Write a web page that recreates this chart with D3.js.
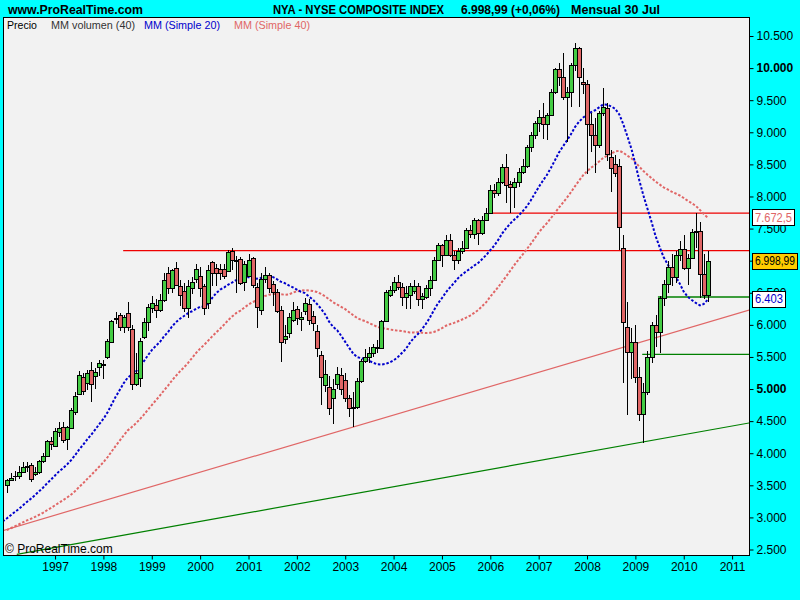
<!DOCTYPE html>
<html><head><meta charset="utf-8">
<script src="https://cdn.jsdelivr.net/npm/d3@7"></script>
<style>
html,body{margin:0;padding:0;background:#00FFFF;}
svg{display:block;font-family:"Liberation Sans",Arial,sans-serif;}
</style></head><body>
<svg id="c" width="800" height="600"></svg>
<script>
// ---------------- DATA (monthly, Jan 1996 .. Jul 2010) ----------------
const startYear = 1996;
const opens = [
3505,3590,3640,3650,3707,3780,3812,3676,3712,3874,3952,4195,
4108,4335,4404,4217,4388,4647,4918,5183,5089,5292,5198,5348,
5380,5494,5737,6090,6148,5962,6184,5930,5074,5167,5815,6049,
6262,6309,6231,6387,6803,6569,6881,6605,6532,6258,6569,6710,
6762,6605,6336,6975,6881,6870,6866,6843,7155,7010,7021,6672,
6760,7037,6594,6231,6710,6781,6631,6516,6226,5774,5868,6076,
6247,6085,6211,6325,6138,5900,5525,5058,5027,4865,5078,5218,
5136,4856,4700,4715,5120,5441,5494,5566,5650,5634,6065,6465,
6543,6672,6594,6440,6470,6520,6600,6398,6438,6570,6700,7010,
7245,7090,7323,7090,7010,7150,7193,7480,7420,7630,7426,7630,
7747,8100,8049,8230,8464,8195,8152,8230,8386,8475,8766,8958,
9140,9243,9124,9270,9623,9981,9866,9554,9620,10048,10308,9788,
9747,9124,8960,8802,9296,9373,8620,8500,8475,7194,5971,5582,
5737,5192,4606,4958,5503,5997,5893,6413,6631,6906,6740,7088,
7177,6881,7037,7442,7467,6792,6465];
const highs = [
3600,3696,3720,3800,3860,3860,3840,3790,3900,4000,4210,4260,
4400,4480,4480,4420,4700,4950,5280,5250,5300,5420,5320,5450,
5460,5780,6080,6200,6180,6160,6356,6000,5560,5800,6100,6330,
6450,6400,6480,6800,6900,6870,6980,6700,6650,6700,6750,6950,
6900,6640,6930,7000,6950,6950,6950,7160,7200,7080,7050,6990,
7100,7060,6650,6800,6900,6800,6680,6560,6300,6000,6180,6350,
6300,6200,6420,6400,6220,6000,5600,5450,5200,5150,5350,5320,
5250,4900,4960,5170,5470,5620,5650,5700,5760,6080,6540,6600,
6750,6780,6650,6600,6650,6700,6650,6500,6620,6760,7050,7280,
7260,7400,7420,7150,7200,7300,7510,7560,7660,7650,7700,7820,
8180,8200,8290,8500,8662,8240,8280,8450,8580,8800,9000,9180,
9350,9450,9300,9680,10000,10080,10240,9700,10080,10387,10330,10000,
9820,9300,9220,9330,9685,9450,8720,8650,8580,7400,6360,5950,
6000,5350,5100,5600,6050,6150,6450,6700,6990,7100,7150,7300,
7400,7100,7500,7743,7600,7100,7150];
const lows = [
3385,3565,3560,3600,3690,3700,3546,3640,3680,3850,3940,4050,
4090,4260,4160,4050,4380,4600,4900,4900,4990,4800,5000,5200,
5152,5470,5720,6010,5900,5880,5900,4980,5050,5036,5780,5900,
6180,6100,6200,6350,6480,6500,6600,6300,6200,6100,6480,6650,
6440,6150,6240,6600,6600,6700,6720,6820,6860,6500,6620,6520,
6740,6580,5950,6150,6650,6500,6300,6180,5426,5700,5800,6050,
5990,5900,6150,6000,5900,5500,4750,4950,4600,4450,5000,4900,
4800,4560,4413,4690,5100,5400,5400,5500,5560,5620,6040,6440,
6500,6540,6300,6250,6250,6480,6300,6250,6400,6450,6680,7000,
6900,7080,7050,6850,6950,7100,7180,7350,7330,7240,7400,7620,
7740,7980,8000,8200,7898,7740,7820,8150,8350,8440,8700,8900,
9000,8900,8880,9250,9600,9720,9500,8850,9400,9950,9400,9600,
8350,8700,8366,8750,9250,8550,8074,8300,7165,5100,4595,5150,
5100,4500,4164,4900,5400,5650,5560,6300,6500,6600,6650,7000,
6850,6621,7020,7200,6420,6400,6360];
const closes = [
3583,3609,3650,3707,3780,3800,3603,3712,3874,3952,4195,4139,
4341,4388,4200,4404,4668,4891,5214,4965,5245,5074,5260,5400,
5390,5744,6060,6102,5962,6117,5962,5074,5250,5744,6040,6283,
6340,6231,6387,6699,6569,6855,6621,6465,6258,6605,6672,6866,
6569,6258,6855,6803,6803,6800,6762,7130,7010,6990,6647,6943,
7010,6621,6282,6710,6781,6569,6516,6216,5737,5820,6117,6231,
6102,6117,6336,6076,6024,5634,5183,5229,4700,4995,5229,4996,
4856,4700,4715,5120,5441,5494,5566,5650,5634,6065,6516,6543,
6672,6585,6438,6490,6600,6600,6398,6450,6570,6700,7010,7245,
7090,7323,7090,7010,7150,7193,7480,7420,7630,7426,7630,7747,
8100,8049,8230,8464,8179,8152,8230,8386,8475,8766,8958,9140,
9243,9124,9270,9623,9981,9866,9554,9623,10048,10308,9856,9747,
9124,8960,8802,9296,9398,8662,8439,8370,7529,6049,5582,5737,
5192,4606,4958,5503,5997,5893,6413,6631,6896,6740,7088,7180,
6881,7037,7442,7467,6792,6465,6999];
// closes before Jan 1996 (Oct 1992 .. Dec 1995), needed for the moving averages
const priorCloses = [
2400,2470,2510,
2520,2560,2600,2560,2600,2620,2620,2700,2700,2740,2680,2720,
2800,2720,2600,2620,2650,2590,2660,2750,2680,2700,2600,2630,
2690,2790,2860,2940,3050,3110,3210,3220,3340,3310,3450,3490];
const yearTicks = [1997,1998,1999,2000,2001,2002,2003,2004,2005,2006,2007,2008,2009,2010,2011];
const priceTicks = [2500,3000,3500,4000,4500,5000,5500,6000,6500,7000,7500,8000,8500,9000,9500,10000,10500];
const boldTicks = [5000,10000];
const hiddenTickLabels = [7000]; // covered by the last-price box in the original
// drawn support / resistance lines: [month index start, price start, month index end, price end]
const redLevels = [[28.9,7157,184.2,7157],[119.7,7742,184.2,7742]];
const greenLevels = [[161.6,6434,184.2,6434],[157.7,5541,184.2,5541]];
const redTrend = [-1.5,2785,184.2,6231];
const greenTrend = [2.5,2425,184.2,4471];
const priceBoxes = [
  {v:7672.5, text:"7.672,5", kind:"res"},
  {v:6998.99, text:"6.998,99", kind:"last"},
  {v:6403, text:"6.403", kind:"ma"}];
const titleParts = ["NYA - NYSE COMPOSITE INDEX","6.998,99 (+0,06%)","Mensual  30 Jul"];
const legendItems = ["Precio","MM volumen (40)","MM (Simple 20)","MM (Simple 40)"];

// ---------------- LAYOUT ----------------
const L=3, R=749, T=17, B=555;
const svg = d3.select("#c");
const x = d3.scaleLinear().domain([0,180]).range([6.7,732.1]);
const y = d3.scaleLinear().domain([2500,10500]).range([549.5,36]);

svg.append("rect").attr("x",0).attr("y",0).attr("width",800).attr("height",600).attr("fill","#00FFFF");
svg.append("defs").append("clipPath").attr("id","clip")
  .append("rect").attr("x",L).attr("y",T).attr("width",R-L).attr("height",B-T);
svg.append("rect").attr("x",L+0.5).attr("y",T+0.5).attr("width",R-L).attr("height",B-T)
  .attr("fill","#F2F2F2");

const plot = svg.append("g").attr("clip-path","url(#clip)");

// trend lines
const seg = (g,a,col,w)=>g.append("line")
  .attr("x1",x(a[0])).attr("y1",y(a[1])).attr("x2",x(a[2])).attr("y2",y(a[3]))
  .attr("stroke",col).attr("stroke-width",w);
seg(plot,greenTrend,"#008000",1.2);
seg(plot,redTrend,"#E06666",1.2);
redLevels.forEach(a=>seg(plot,a,"#EE0000",1.3));
greenLevels.forEach(a=>seg(plot,a,"#008000",1.3));

// moving averages
const all = priorCloses.concat(closes);
const off = priorCloses.length;
function sma(n){
  const out=[];
  for(let i=-1;i<closes.length;i++){
    const k=i+off; if(k-n+1<0) continue;
    out.push([i,d3.mean(all.slice(k-n+1,k+1))]);
  }
  return out;
}
const line = d3.line().x(d=>x(d[0])).y(d=>y(d[1]));
plot.append("path").attr("d",line(sma(40))).attr("fill","none")
  .attr("stroke","#E06666").attr("stroke-width",2).attr("stroke-dasharray","2.5,1.8");
plot.append("path").attr("d",line(sma(20))).attr("fill","none")
  .attr("stroke","#0000CC").attr("stroke-width",2).attr("stroke-dasharray","2.5,1.8");

// candles
const cg = plot.append("g").attr("shape-rendering","crispEdges");
closes.forEach((c,i)=>{
  const o=opens[i], h=highs[i], l=lows[i];
  const cx=Math.round(x(i));
  cg.append("line").attr("x1",cx+0.5).attr("x2",cx+0.5)
    .attr("y1",Math.round(y(h))).attr("y2",Math.round(y(l))).attr("stroke","#000").attr("stroke-width",1);
  const top=Math.round(y(Math.max(o,c))), bot=Math.round(y(Math.min(o,c)));
  if(bot-top<2){
    cg.append("rect").attr("x",cx-2).attr("y",top).attr("width",5).attr("height",Math.max(1,bot-top+1)).attr("fill","#000");
  } else {
    cg.append("rect").attr("x",cx-1.5).attr("y",top+0.5).attr("width",4).attr("height",bot-top)
      .attr("fill",c>=o?"#44CC44":"#E06666").attr("stroke","#000").attr("stroke-width",1);
  }
});

// frame
svg.append("rect").attr("x",L+0.5).attr("y",T+0.5).attr("width",R-L).attr("height",B-T)
  .attr("fill","none").attr("stroke","#000").attr("stroke-width",1).attr("shape-rendering","crispEdges");

// axes
const fmtP = v=>hiddenTickLabels.includes(v)?"":d3.format(",")(v).replace(/,/g,".");
const ya = svg.append("g").attr("transform",`translate(${R+0.5},0)`)
  .call(d3.axisRight(y).tickValues(priceTicks).tickSize(4).tickPadding(3).tickFormat(fmtP));
ya.select(".domain").remove();
ya.selectAll("text").attr("font-size",12).attr("font-family","Liberation Sans, Arial, sans-serif")
  .attr("font-weight",d=>boldTicks.includes(d)?"bold":"normal").attr("fill","#000");
ya.selectAll("line").attr("stroke","#000");
const xa = svg.append("g").attr("transform",`translate(0,${B+0.5})`)
  .call(d3.axisBottom(x).tickValues(yearTicks.map(yy=>(yy-startYear)*12)).tickSize(4).tickPadding(3)
    .tickFormat(d=>String(startYear+d/12)));
xa.select(".domain").remove();
xa.selectAll("text").attr("font-size",12).attr("font-family","Liberation Sans, Arial, sans-serif").attr("fill","#000");
xa.selectAll("line").attr("stroke","#000");

// price boxes
const boxW = {res:37, last:40, ma:28};
priceBoxes.forEach(b=>{
  const cy=y(b.v);
  const g=svg.append("g");
  g.append("rect").attr("x",752.5).attr("y",Math.round(cy-8)+0.5).attr("width",boxW[b.kind]+5).attr("height",16)
    .attr("fill",b.kind==="last"?"#FFCC00":"#FFFFFF").attr("stroke","#000").attr("shape-rendering","crispEdges");
  g.append("text").attr("x",755).attr("y",cy+4.5).attr("font-size",12)
    .attr("textLength",boxW[b.kind]).attr("lengthAdjust","spacingAndGlyphs").text(b.text)
    .attr("fill",b.kind==="res"?"#E06666":b.kind==="ma"?"#0000CC":"#000");
});

// titles
svg.append("text").attr("x",8).attr("y",14).attr("font-size",13).attr("font-weight","bold")
  .attr("textLength",135).attr("lengthAdjust","spacingAndGlyphs").text("www.ProRealTime.com");
const tx=[273,461,571], tw=[171,99,89];
titleParts.forEach((s,k)=>svg.append("text").attr("x",tx[k]).attr("y",14).attr("font-size",13)
  .attr("font-weight","bold").attr("textLength",tw[k]).attr("lengthAdjust","spacingAndGlyphs").text(s));
const lx=[7,51,144,234], lw=[30,84,76,76], lc=["#000","#333","#0000CC","#E06666"];
legendItems.forEach((s,k)=>svg.append("text").attr("x",lx[k]).attr("y",29).attr("font-size",11)
  .attr("fill",lc[k]).attr("textLength",lw[k]).attr("lengthAdjust","spacingAndGlyphs").text(s));
svg.append("text").attr("x",5).attr("y",553).attr("font-size",12).attr("fill","#000").text("© ProRealTime.com");
</script>
</body></html>
